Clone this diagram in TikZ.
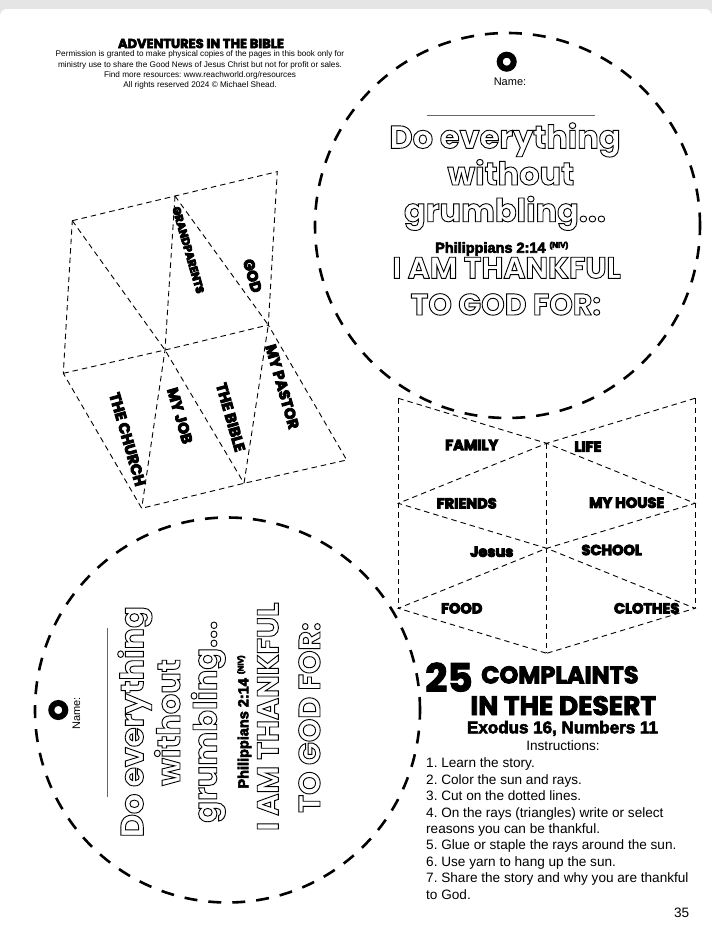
\documentclass[tikz,border=0pt]{standalone}
\usepackage{fontspec}
\setmainfont{Liberation Sans}
\newfontfamily\dispfont{Poppins}
\usetikzlibrary{calc}
\frenchspacing
\def\hollow#1{\special{pdf:literal 1 Tr 0.9 w}#1\special{pdf:literal 0 Tr}}
\def\heavy#1{\special{pdf:literal 2 Tr 0.6 w}#1\special{pdf:literal 0 Tr}}
\def\heavier#1{\special{pdf:literal 2 Tr 0.9 w}#1\special{pdf:literal 0 Tr}}
\def\sunhole(#1){\draw[line width=6pt] (#1) circle (7pt);}

\tikzset{
	cutline/.style={dash pattern=on 5.5pt off 4pt, line width=0.9pt},
	sunline/.style={dash pattern=on 13pt off 11pt, line width=2.6pt},
	raytext/.style={font=\dispfont\bfseries\fontsize{14.5}{14.5}\selectfont, inner sep=0pt},
	sidetext/.style={raytext, font=\dispfont\bfseries\fontsize{15}{15}\selectfont, rotate=-74},
	verse/.style={font=\dispfont\bfseries\fontsize{32}{32}\selectfont, inner sep=0pt, anchor=base},
	thankline/.style={font=\dispfont\bfseries\fontsize{30}{30}\selectfont, inner sep=0pt, anchor=base},
	versref/.style={font=\bfseries\fontsize{14.5}{14.5}\selectfont, inner sep=0pt, anchor=base},
	plain/.style={font=\fontsize{13.6}{13.6}\selectfont, inner sep=0pt}
}

\begin{document}
\begin{tikzpicture}[x=1pt, y=-1pt]
			%%%%% START %%%%%
			\useasboundingbox (0,0) rectangle (712,948);
			\fill[black!10] (0,0) rectangle (712,948);
			\fill[white, rounded corners=7pt] (0,9) rectangle (712,980);
			
			% header
			\node[font=\dispfont\bfseries\fontsize{13}{13}\selectfont, inner sep=0pt] (brand) at (201,43.5) {\heavy{ADVENTURES IN THE BIBLE}};
			\node[align=center, font=\fontsize{8.2}{10.1}\selectfont, inner sep=0pt] (permit) at (200,70) {Permission is granted to make physical copies of the pages in this book only for\\ministry use to share the Good News of Jesus Christ but not for profit or sales.\\Find more resources: www.reachworld.org/resources\\All rights reserved 2024 \textcopyright{} Michael Shead.};
			
			% sun on top
			\draw[sunline] (507.5,225.5) circle (192.5pt);
			\sunhole(506.7,61.7)
			\node[plain, anchor=base, font=\fontsize{11}{11}\selectfont] (topname) at (510,85) {Name:};
			\draw[black!60, line width=0.6pt] (426.7,115) -- (595,115);
			\node[verse] (topverse1) at (505,148.3) {\hollow{Do everything}};
			\node[verse] (topverse2) at (510.8,185) {\hollow{without}};
			\node[verse] (topverse3) at (505,221.7) {\hollow{grumbling...}};
			\node[versref] (topref) at (501.7,252.7) {\heavy{Philippians 2:14} \raisebox{5pt}{\fontsize{8}{8}\selectfont\heavy{(NIV)}}};
			\node[thankline] (topthanks1) at (506.7,278.3) {\hollow{I AM THANKFUL}};
			\node[thankline] (topthanks2) at (505.8,315) {\hollow{TO GOD FOR:}};
			
			% rays on the left
			\coordinate (lt1) at (72.3,220.7);
			\coordinate (lt2) at (175,196);
			\coordinate (lt3) at (277.3,171.7);
			\coordinate (lm1) at (63.3,373.3);
			\coordinate (lm2) at (165,350);
			\coordinate (lm3) at (268.3,325);
			\coordinate (lb1) at (141.7,508.3);
			\coordinate (lb2) at (244,483.3);
			\coordinate (lb3) at (346.7,460);
			\draw[cutline] (lt1) -- (lt2) -- (lt3) -- (lm3) -- (lb3) -- (lb2) -- (lb1) -- (lm1) -- cycle;
			\draw[cutline] (lm1) -- (lm2) -- (lm3);
			\draw[cutline] (lt2) -- (lm2) -- (lb1);
			\draw[cutline] (lt1) -- (lm2) -- (lb2);
			\draw[cutline] (lt2) -- (lm3) -- (lb2);
			\node[sidetext, font=\dispfont\bfseries\fontsize{11}{11}\selectfont] (grand) at (188.3,250) {\heavier{GRANDPARENTS}};
			\node[sidetext] (god) at (252.5,275.8) {\heavier{GOD}};
			\node[sidetext] (church) at (127.5,439.3) {\heavier{THE CHURCH}};
			\node[sidetext] (job) at (180,415.7) {\heavier{MY JOB}};
			\node[sidetext] (bible) at (230.7,417.3) {\heavier{THE BIBLE}};
			\node[sidetext] (pastor) at (282.3,386.7) {\heavier{MY PASTOR}};
			
			% rays on the right
			\coordinate (rt1) at (398.3,398.3);
			\coordinate (rt2) at (695,398.3);
			\coordinate (rc1) at (546.7,443.3);
			\coordinate (rl1) at (398.3,503.3);
			\coordinate (rr1) at (695,503.3);
			\coordinate (rc2) at (546.7,548.3);
			\coordinate (rl2) at (398.3,608.3);
			\coordinate (rr2) at (695,608.3);
			\coordinate (rc3) at (546.7,653.3);
			\draw[cutline] (rt1) -- (rl2);
			\draw[cutline] (rt2) -- (rr2);
			\draw[cutline] (rc1) -- (rc3);
			\draw[cutline] (rt1) -- (rc1) -- (rr1) -- (rc2) -- (rr2) -- (rc3);
			\draw[cutline] (rt2) -- (rc1) -- (rl1) -- (rc2) -- (rl2) -- (rc3);
			\node[raytext] (family) at (471.7,445) {\heavier{FAMILY}};
			\node[raytext] (life) at (588,446.7) {\heavier{LIFE}};
			\node[raytext] (friends) at (466.7,503.3) {\heavier{FRIENDS}};
			\node[raytext] (house) at (626.7,502.7) {\heavier{MY HOUSE}};
			\node[raytext] (jesus) at (491.7,551.7) {\heavier{Jesus}};
			\node[raytext] (school) at (611.7,550) {\heavier{SCHOOL}};
			\node[raytext] (food) at (461.7,608.3) {\heavier{FOOD}};
			\node[raytext] (clothes) at (646.7,608.3) {\heavier{CLOTHES}};
			
			% sun at the bottom, turned
			\draw[sunline] (227.5,710) circle (192.5pt);
			\sunhole(58.3,710)
			\node[plain, anchor=base, rotate=90, font=\fontsize{11}{11}\selectfont] (botname) at (80,713.3) {Name:};
			\draw[black!60, line width=0.6pt] (107.3,628) -- (107.3,796.7);
			\node[verse, rotate=90] (botverse1) at (143.3,721.7) {\hollow{Do everything}};
			\node[verse, rotate=90] (botverse2) at (180,722.5) {\hollow{without}};
			\node[verse, rotate=90] (botverse3) at (216.7,721.7) {\hollow{grumbling...}};
			\node[versref, rotate=90] (botref) at (248.3,722) {\heavy{Philippians 2:14} \raisebox{5pt}{\fontsize{8}{8}\selectfont\heavy{(NIV)}}};
			\node[thankline, rotate=90] (botthanks1) at (278.3,716.7) {\hollow{I AM THANKFUL}};
			\node[thankline, rotate=90] (botthanks2) at (320,717.5) {\hollow{TO GOD FOR:}};
			
			% title and steps
			\node[font=\dispfont\bfseries\fontsize{39}{39}\selectfont, anchor=base, inner sep=0pt] (num) at (449,691.7) {\heavier{25}};
			\node[font=\dispfont\bfseries\fontsize{24}{24}\selectfont, anchor=base west, inner sep=0pt] (title1) at (481,683.3) {\heavier{COMPLAINTS}};
			\node[font=\dispfont\bfseries\fontsize{26.5}{26.5}\selectfont, anchor=base, inner sep=0pt] (title2) at (563.3,715) {\heavier{IN THE DESERT}};
			\node[versref, font=\bfseries\fontsize{17}{17}\selectfont] (story) at (562.5,733.3) {\heavy{Exodus 16, Numbers 11}};
			\node[plain, anchor=base] (howto) at (563,750) {Instructions:};
			\foreach \step [count=\i] in {1. Learn the story., 2. Color the sun and rays., 3. Cut on the dotted lines., 4. On the rays (triangles) write or select, reasons you can be thankful., 5. Glue or staple the rays around the sun., 6. Use yarn to hang up the sun., 7. Share the story and why you are thankful, to God.}
				\node[plain, anchor=base west] (step\i) at (426,{767.7+16.45*(\i-1)}) {\step};
			\node[plain, anchor=base] (page) at (681.7,917.7) {35};
			%%%%% END %%%%%
\end{tikzpicture}
\end{document}
